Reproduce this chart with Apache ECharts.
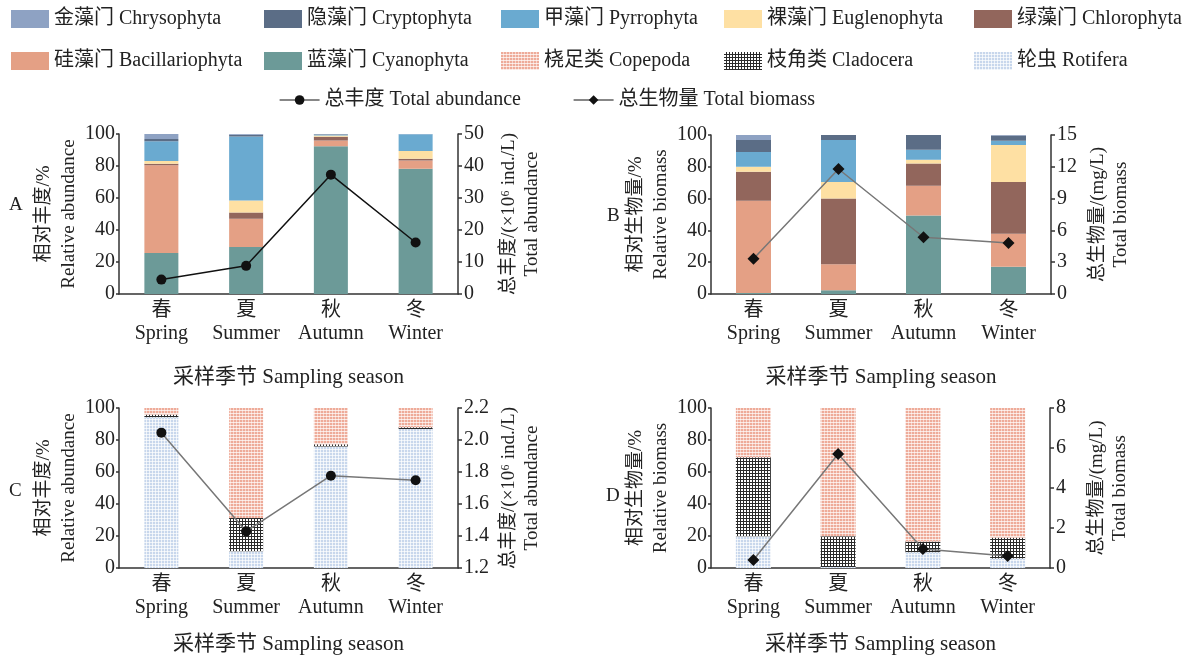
<!DOCTYPE html>
<html>
<head>
<meta charset="utf-8">
<script src="https://cdn.jsdelivr.net/npm/echarts@6/dist/echarts.min.js"></script>
<style>
  html, body { margin: 0; padding: 0; background: #fff; }
  #main { width: 1198px; height: 658px; }
</style>
</head>
<body>
<div id="main"></div>
<script>
// 季节
var seasons = ['春\nSpring', '夏\nSummer', '秋\nAutumn', '冬\nWinter'];

// A 浮游植物相对丰度 (%)
var aCyano = [25.7, 29.4, 92.3, 78.3];
var aBacil = [54.7, 17.6, 3.7, 5.2];
var aChloro = [1.0, 3.9, 2.3, 1.1];
var aEugleno = [1.7, 7.6, 0.7, 4.8];
var aPyrro = [12.3, 40.0, 0.6, 10.4];
var aCrypto = [1.5, 1.1, 0.2, 0.1];
var aChryso = [3.1, 0.4, 0.2, 0.1];
var aTotal = [4.5, 8.8, 37.3, 16.1];

// B 浮游植物相对生物量 (%)
var bCyano = [0.6, 2.3, 49.3, 17.2];
var bBacil = [58.1, 16.4, 18.8, 20.7];
var bChloro = [18.2, 41.3, 13.9, 32.5];
var bEugleno = [3.2, 10.4, 2.5, 23.3];
var bPyrro = [9.2, 26.5, 6.3, 2.7];
var bCrypto = [7.6, 3.1, 9.2, 3.3];
var bChryso = [3.1, 0, 0, 0.3];
var bTotal = [3.33, 11.79, 5.35, 4.81];

// C 浮游动物相对丰度 (%)
var cRoti = [94.2, 10.4, 76.0, 86.9];
var cClado = [1.8, 20.9, 1.3, 1.0];
var cCope = [4.0, 68.7, 22.7, 12.1];
var cTotal = [2.046, 1.429, 1.777, 1.748];

// D 浮游动物相对生物量 (%)
var dRoti = [19.8, 0.6, 9.8, 6.0];
var dClado = [49.4, 19.2, 6.7, 13.0];
var dCope = [30.8, 80.2, 83.5, 81.0];
var dTotal = [0.4, 5.7, 0.95, 0.6];

var FONT = '"Liberation Serif", "Noto Sans CJK SC", serif';

var N = {
  chryso: '金藻门 Chrysophyta',
  crypto: '隐藻门 Cryptophyta',
  pyrro: '甲藻门 Pyrrophyta',
  eugleno: '裸藻门 Euglenophyta',
  chloro: '绿藻门 Chlorophyta',
  bacil: '硅藻门 Bacillariophyta',
  cyano: '蓝藻门 Cyanophyta',
  cope: '桡足类 Copepoda',
  clado: '枝角类 Cladocera',
  roti: '轮虫 Rotifera',
  abun: '总丰度 Total abundance',
  bio: '总生物量 Total biomass'
};

var colors = {
  chryso: '#8ea2c3',
  crypto: '#5b6d86',
  pyrro: '#6aaad0',
  eugleno: '#fee0a3',
  chloro: '#92665c',
  bacil: '#e4a085',
  cyano: '#6c9a98'
};

// 图案填充
function makePattern(bg, line, vline) {
  var c = document.createElement('canvas');
  c.width = 3; c.height = 3;
  var ctx = c.getContext('2d');
  ctx.fillStyle = bg;
  ctx.fillRect(0, 0, 3, 3);
  ctx.fillStyle = line;
  ctx.fillRect(0, 2, 3, 1);
  ctx.fillStyle = vline;
  ctx.fillRect(2, 0, 1, 3);
  return { image: c, repeat: 'repeat' };
}
var copePat = makePattern('#eeab99', '#fbe7e1', 'rgba(255,255,255,0.5)');
var cladoPat = makePattern('#ffffff', '#2a2a2a', '#2a2a2a');
var rotiPat = makePattern('#c8d7ec', '#eef3f9', 'rgba(255,255,255,0.7)');

var grids = [
  { left: 119, top: 134, width: 339, height: 160 },
  { left: 711, top: 135, width: 340, height: 159 },
  { left: 119, top: 408, width: 339, height: 160 },
  { left: 711, top: 408, width: 339, height: 160 }
];

var axisLineStyle = { color: '#333', width: 1.5 };
var labelStyle = { fontFamily: FONT, fontSize: 20, color: '#222' };

function xAxisFor(i, gap) {
  return {
    type: 'category', gridIndex: i, data: seasons,
    axisTick: { show: false },
    axisLine: { lineStyle: axisLineStyle },
    axisLabel: { interval: 0, fontFamily: FONT, fontSize: 20, color: '#222', lineHeight: 23, margin: 5 },
    name: '采样季节 Sampling season',
    nameLocation: 'middle', nameGap: gap,
    nameTextStyle: { fontFamily: FONT, fontSize: 21, color: '#222' }
  };
}
function leftAxis(i, name) {
  return {
    type: 'value', gridIndex: i, min: 0, max: 100, interval: 20,
    axisLine: { show: true, lineStyle: axisLineStyle },
    axisTick: { show: true, length: 3, lineStyle: axisLineStyle },
    splitLine: { show: false },
    axisLabel: Object.assign({ margin: 4 }, labelStyle),
    name: name, nameLocation: 'middle', nameRotate: 90, nameGap: 36,
    nameTextStyle: { fontFamily: FONT, fontSize: 19, color: '#222', lineHeight: 25 }
  };
}
function rightAxis(i, min, max, interval, name, fmt, gap) {
  return {
    type: 'value', gridIndex: i, position: 'right', min: min, max: max, interval: interval,
    axisLine: { show: true, lineStyle: axisLineStyle },
    axisTick: { show: true, length: 4, lineStyle: axisLineStyle },
    splitLine: { show: false },
    axisLabel: Object.assign({ margin: 6, formatter: fmt }, labelStyle),
    name: name, nameLocation: 'middle', nameRotate: 90, nameGap: gap,
    nameTextStyle: { fontFamily: FONT, fontSize: 19, color: '#222', lineHeight: 23 }
  };
}

function bar(name, data, axis, color, width) {
  return {
    type: 'bar', name: name, data: data, stack: 's' + axis,
    xAxisIndex: axis, yAxisIndex: axis * 2,
    barWidth: width, itemStyle: { color: color },
    silent: true
  };
}
function line(name, data, axis, lineColor, symbol, size) {
  return {
    type: 'line', name: name, data: data,
    xAxisIndex: axis, yAxisIndex: axis * 2 + 1,
    symbol: symbol, symbolSize: size,
    lineStyle: { color: lineColor, width: 1.5 },
    itemStyle: { color: '#111' },
    z: 5, silent: true
  };
}

var series = [
  bar(N.cyano, aCyano, 0, colors.cyano, 34),
  bar(N.bacil, aBacil, 0, colors.bacil, 34),
  bar(N.chloro, aChloro, 0, colors.chloro, 34),
  bar(N.eugleno, aEugleno, 0, colors.eugleno, 34),
  bar(N.pyrro, aPyrro, 0, colors.pyrro, 34),
  bar(N.crypto, aCrypto, 0, colors.crypto, 34),
  bar(N.chryso, aChryso, 0, colors.chryso, 34),
  line(N.abun, aTotal, 0, '#111', 'circle', 10),

  bar(N.cyano, bCyano, 1, colors.cyano, 35),
  bar(N.bacil, bBacil, 1, colors.bacil, 35),
  bar(N.chloro, bChloro, 1, colors.chloro, 35),
  bar(N.eugleno, bEugleno, 1, colors.eugleno, 35),
  bar(N.pyrro, bPyrro, 1, colors.pyrro, 35),
  bar(N.crypto, bCrypto, 1, colors.crypto, 35),
  bar(N.chryso, bChryso, 1, colors.chryso, 35),
  line(N.bio, bTotal, 1, '#777', 'diamond', 12),

  bar(N.roti, cRoti, 2, rotiPat, 34),
  bar(N.clado, cClado, 2, cladoPat, 34),
  bar(N.cope, cCope, 2, copePat, 34),
  line(N.abun, cTotal, 2, '#777', 'circle', 10),

  bar(N.roti, dRoti, 3, rotiPat, 35),
  bar(N.clado, dClado, 3, cladoPat, 35),
  bar(N.cope, dCope, 3, copePat, 35),
  line(N.bio, dTotal, 3, '#777', 'diamond', 12)
];

function legendCol(x, names) {
  return {
    orient: 'vertical', left: x, top: 9, padding: 0, icon: 'rect',
    itemWidth: 38, itemHeight: 18, itemGap: 22,
    selectedMode: false, data: names,
    textStyle: { fontFamily: FONT, fontSize: 20, color: '#222' }
  };
}
function legendLine(x, name) {
  return {
    left: x, top: 90, padding: 0, itemWidth: 40, itemHeight: 12,
    selectedMode: false, data: [name],
    lineStyle: { color: '#111', width: 1.2 },
    textStyle: { fontFamily: FONT, fontSize: 20, color: '#222' }
  };
}

var chart = echarts.init(document.getElementById('main'));
chart.setOption({
  backgroundColor: '#fff',
  animation: false,
  textStyle: { fontFamily: FONT },
  legend: [
    legendCol(11, [N.chryso, N.bacil]),
    legendCol(264, [N.crypto, N.cyano]),
    legendCol(501, [N.pyrro, N.cope]),
    legendCol(724, [N.eugleno, N.clado]),
    legendCol(974, [N.chloro, N.roti]),
    legendLine(279, N.abun),
    legendLine(573, N.bio)
  ],
  grid: grids,
  xAxis: [xAxisFor(0, 73), xAxisFor(1, 73), xAxisFor(2, 66), xAxisFor(3, 66)],
  yAxis: [
    leftAxis(0, '相对丰度/%\nRelative abundance'),
    rightAxis(0, 0, 50, 10, '总丰度/(×10⁶ ind./L)\nTotal abundance', null, 40),
    leftAxis(1, '相对生物量/%\nRelative biomass'),
    rightAxis(1, 0, 15, 3, '总生物量/(mg/L)\nTotal biomass', null, 36),
    leftAxis(2, '相对丰度/%\nRelative abundance'),
    rightAxis(2, 1.2, 2.2, 0.2, '总丰度/(×10⁶ ind./L)\nTotal abundance', function (v) { return v.toFixed(1); }, 40),
    leftAxis(3, '相对生物量/%\nRelative biomass'),
    rightAxis(3, 0, 8, 2, '总生物量/(mg/L)\nTotal biomass', null, 36)
  ],
  graphic: [
    { type: 'text', left: 9, top: 196, style: { text: 'A', font: '19px ' + FONT, fill: '#222' } },
    { type: 'text', left: 607, top: 207, style: { text: 'B', font: '19px ' + FONT, fill: '#222' } },
    { type: 'text', left: 9, top: 482, style: { text: 'C', font: '19px ' + FONT, fill: '#222' } },
    { type: 'text', left: 606, top: 487, style: { text: 'D', font: '19px ' + FONT, fill: '#222' } }
  ],
  series: series
});
</script>
</body>
</html>
